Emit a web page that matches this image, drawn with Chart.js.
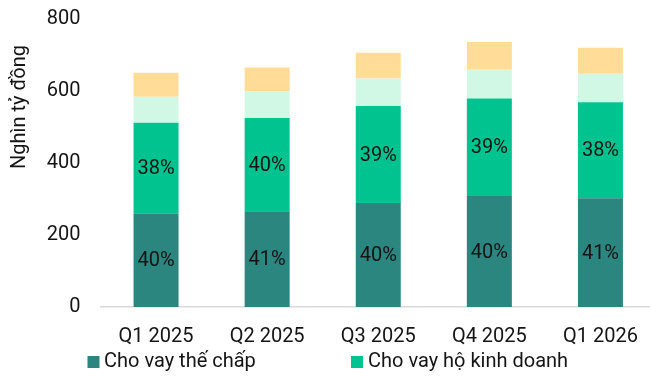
<!DOCTYPE html>
<html>
<head>
<meta charset="utf-8">
<script src="https://cdn.jsdelivr.net/npm/chart.js@4"></script>
<style>
  html, body { margin: 0; padding: 0; background: #fff; overflow: hidden; width: 650px; height: 376px; }
  canvas { display: block; }
</style>
</head>
<body>
<canvas id="c" width="656" height="376"></canvas>
<script>
// Dư nợ cho vay theo quý (nghìn tỷ đồng)
const quarters = ['Q1 2025', 'Q2 2025', 'Q3 2025', 'Q4 2025', 'Q1 2026'];
const mortgage = [259, 266, 289, 308, 302];        // Cho vay thế chấp
const household = [253, 259, 269, 271, 267];       // Cho vay hộ kinh doanh
const unsecured = [72, 74, 77, 82, 79];            // Cho vay tín chấp
const otherLoans = [67, 66, 71, 75, 72];           // Cho vay khác
// Tỷ trọng in trên cột
const mortgageShare = [40, 41, 40, 40, 41];
const householdShare = [38, 40, 39, 39, 38];

const seriesNames = ['Cho vay thế chấp', 'Cho vay hộ kinh doanh', 'Cho vay tín chấp', 'Cho vay khác'];
const colors = ['#2B8680', '#00C38F', '#D1F8E5', '#FFDC97'];
const yTicks = [0, 200, 400, 600, 800];

const FONT = 'Roboto, "Noto Sans", sans-serif';
const TEXT = '#141414';

// Nhãn phần trăm ở giữa từng đoạn cột
const shareLabels = {
  id: 'shareLabels',
  afterDatasetsDraw(chart) {
    const ctx = chart.ctx;
    const shares = [mortgageShare, householdShare];
    ctx.save();
    ctx.font = '20px ' + FONT;
    ctx.fillStyle = TEXT;
    ctx.textAlign = 'center';
    ctx.textBaseline = 'middle';
    shares.forEach((arr, di) => {
      const meta = chart.getDatasetMeta(di);
      meta.data.forEach((bar, i) => {
        const p = bar.getProps(['x', 'y', 'base'], true);
        ctx.fillText(arr[i] + '%', p.x, (p.y + p.base) / 2 + 1);
      });
    });
    ctx.restore();
  }
};

// Tiêu đề trục tung
const yTitle = {
  id: 'yTitle',
  afterDraw(chart) {
    const ctx = chart.ctx;
    ctx.save();
    ctx.translate(20, 107);
    ctx.rotate(-Math.PI / 2);
    ctx.font = '20px ' + FONT;
    ctx.fillStyle = TEXT;
    ctx.textAlign = 'center';
    ctx.textBaseline = 'middle';
    ctx.fillText('Nghìn tỷ đồng', 0, 0);
    ctx.restore();
  }
};

// Chú giải (hai mục đầu)
const legendItems = [
  { box: 87.5, text: 104 },
  { box: 351, text: 368 }
];
const bottomLegend = {
  id: 'bottomLegend',
  afterDraw(chart) {
    const ctx = chart.ctx;
    ctx.save();
    ctx.font = '20px ' + FONT;
    ctx.textBaseline = 'middle';
    ctx.textAlign = 'left';
    legendItems.forEach((it, i) => {
      const ds = chart.data.datasets[i];
      ctx.fillStyle = ds.backgroundColor;
      ctx.fillRect(it.box, 356, 12, 12);
      ctx.fillStyle = TEXT;
      ctx.fillText(ds.label, it.text, 362);
    });
    ctx.restore();
  }
};

const seriesData = [mortgage, household, unsecured, otherLoans];

new Chart(document.getElementById('c'), {
  type: 'bar',
  data: {
    labels: quarters,
    datasets: seriesData.map((d, i) => ({
      label: seriesNames[i],
      data: d,
      backgroundColor: colors[i],
      borderWidth: 0,
      categoryPercentage: 1,
      barPercentage: 0.405
    }))
  },
  options: {
    responsive: false,
    animation: false,
    devicePixelRatio: 1,
    layout: { padding: { top: 19, right: 0, bottom: 0, left: 0 } },
    plugins: {
      legend: { display: false },
      tooltip: { enabled: false }
    },
    scales: {
      x: {
        stacked: true,
        grid: { display: false, drawTicks: false },
        border: { display: true, color: '#D9D9D9', width: 1.5 },
        ticks: { font: { family: FONT, size: 20 }, color: TEXT, padding: 18, maxRotation: 0 },
        afterFit(s) { s.height = 69; s.paddingLeft = 0; s.paddingRight = 0; }
      },
      y: {
        stacked: true,
        min: 0,
        max: 800,
        afterBuildTicks(s) { s.ticks = yTicks.map(v => ({ value: v })); },
        grid: { display: false, drawTicks: false },
        border: { display: false },
        ticks: { font: { family: FONT, size: 20 }, color: TEXT, padding: 20 },
        afterFit(s) { s.width = 100.5; s.paddingTop = 0; s.paddingBottom = 0; }
      }
    }
  },
  plugins: [shareLabels, yTitle, bottomLegend]
});
</script>
</body>
</html>
